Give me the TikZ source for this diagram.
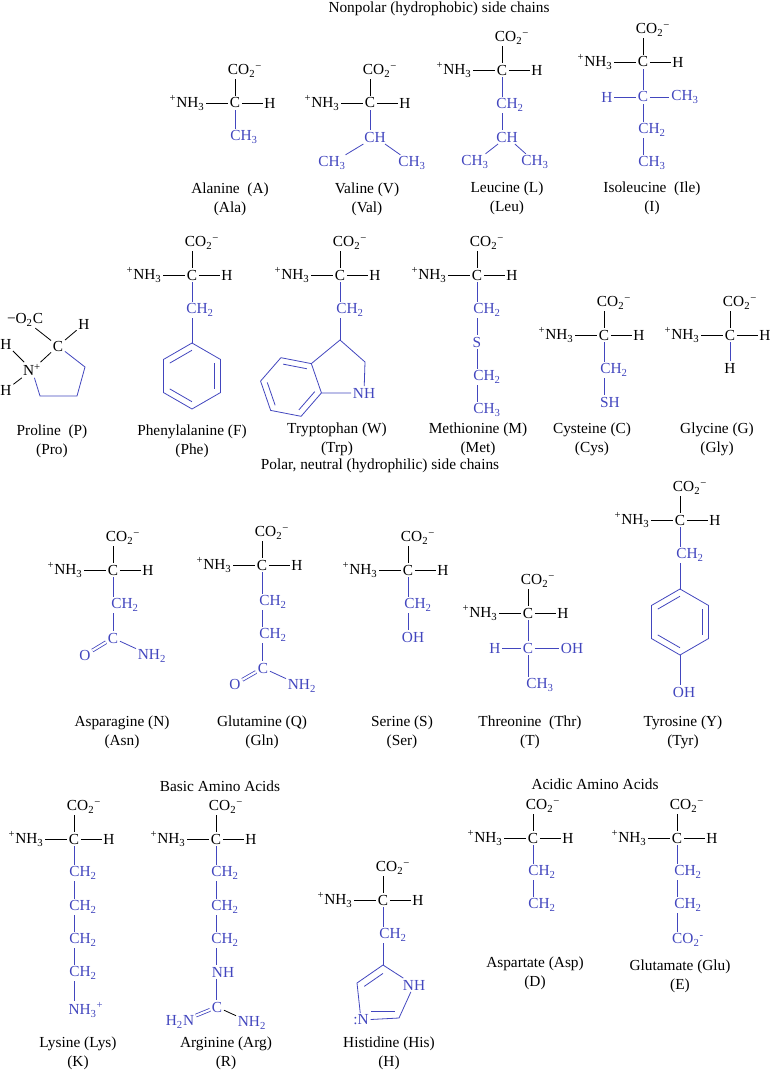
\documentclass[tikz,border=0pt]{standalone}
\usepackage{fontspec}
\setmainfont{Liberation Serif}
\usetikzlibrary{calc}
\definecolor{chain}{RGB}{66,70,190}

\tikzset{
	atom/.style={inner sep=1.2pt,font=\fontsize{11.5}{13}\selectfont},
	side/.style={atom,text=chain},
	bond/.style={draw=black,line width=0.6pt},
	sbond/.style={draw=chain,line width=0.6pt},
	dbond/.style={sbond,double=white,double distance=1.6pt},
	headtext/.style={inner sep=0pt,font=\fontsize{11.5}{13}\selectfont},
	aalabel/.style={inner sep=0pt,align=center,font=\fontsize{11.5}{14}\selectfont}
}

% backbone: prefix, x, y of the alpha carbon
\newcommand{\backbone}[3]{
	\node[atom] (#1c)  at (#2,#3)       {C};
	\node[atom] (#1co) at (#2+10,#3-32) {CO\textsubscript{2}\textsuperscript{−}};
	\node[atom] (#1n)  at (#2-48,#3)    {\textsuperscript{+}NH\textsubscript{3}};
	\node[atom] (#1h)  at (#2+35,#3)    {H};
	\draw[bond] (#1c) -- (#1c |- #1co.south);
	\draw[bond] (#1n) -- (#1c);
	\draw[bond] (#1c) -- (#1h);
}
% vertical side chain bond at the x of #3
\newcommand{\vb}[3]{\draw[sbond] (#3 |- #1.south) -- (#3 |- #2.north);}
% benzene ring: name, cx, cy, radius, start angle
\newcommand{\benzring}[5]{
	\coordinate (#1) at (#2,#3);
	\foreach \k in {1,...,6} \coordinate (#1\k) at ($(#1)+({#5+60*(\k-1)}:#4)$);
	\draw[sbond] (#11) -- (#12) -- (#13) -- (#14) -- (#15) -- (#16) -- cycle;
	\foreach \a/\b in {2/3,4/5,6/1} \draw[sbond] ($(#1)!0.78!(#1\a)$) -- ($(#1)!0.78!(#1\b)$);
}

\begin{document}
\begin{tikzpicture}[x=0.75pt,y=-0.75pt]
	\useasboundingbox (0,0) rectangle (771,1070);
	
	\node[headtext] (t1) at (439,9) {Nonpolar (hydrophobic) side chains};
	
	% alanine
	\backbone{ala}{235}{103}
	\node[side] (ala1) at (244,137) {CH\textsubscript{3}};
	\vb{alac}{ala1}{alac}
	\node[aalabel] (alal) at (230,199) {Alanine\ \ (A)\\(Ala)};
	
	% valine
	\backbone{val}{370}{103}
	\node[side] (val1) at (375,137) {CH};
	\node[side] (val2) at (332,163) {CH\textsubscript{3}};
	\node[side] (val3) at (412,163) {CH\textsubscript{3}};
	\vb{valc}{val1}{valc}
	\draw[sbond] (val1) -- (val2);
	\draw[sbond] (val1) -- (val3);
	\node[aalabel] (vall) at (367,199) {Valine (V)\\(Val)};
	
	% leucine
	\backbone{leu}{502}{70}
	\node[side] (leu1) at (510,105) {CH\textsubscript{2}};
	\node[side] (leu2) at (507,137) {CH};
	\node[side] (leu3) at (475,162) {CH\textsubscript{3}};
	\node[side] (leu4) at (535,162) {CH\textsubscript{3}};
	\vb{leuc}{leu1}{leuc}
	\vb{leu1}{leu2}{leuc}
	\draw[sbond] (leu2) -- (leu3);
	\draw[sbond] (leu2) -- (leu4);
	\node[aalabel] (leul) at (507,198) {Leucine (L)\\(Leu)};
	
	% isoleucine
	\backbone{ile}{643}{62}
	\node[side] (ile1) at (607,97) {H};
	\node[side] (ile2) at (643,97) {C};
	\node[side] (ile3) at (685,97) {CH\textsubscript{3}};
	\node[side] (ile4) at (652,130) {CH\textsubscript{2}};
	\node[side] (ile5) at (652,163) {CH\textsubscript{3}};
	\vb{ilec}{ile2}{ilec}
	\draw[sbond] (ile1) -- (ile2);
	\draw[sbond] (ile2) -- (ile3);
	\vb{ile2}{ile4}{ilec}
	\vb{ile4}{ile5}{ilec}
	\node[aalabel] (ilel) at (652,198) {Isoleucine\ \ (Ile)\\(I)};
	
	% proline
	\node[atom] (proco) at (25,320) {−O\textsubscript{2}C};
	\node[atom] (proh)  at (84,324) {H};
	\node[atom] (proc)  at (58,346) {C};
	\node[atom] (pron)  at (32,370) {N\textsuperscript{+}};
	\node[atom] (proh1) at (6,344)  {H};
	\node[atom] (proh2) at (6,390)  {H};
	\coordinate (pr1) at (85,367);
	\coordinate (pr2) at (77,396);
	\coordinate (pr3) at (40,396);
	\draw[bond] (proco) -- (proc);
	\draw[bond] (proh) -- (proc);
	\draw[bond] (proh1) -- (pron);
	\draw[bond] (proh2) -- (pron);
	\draw[bond] (pron) -- (proc);
	\draw[sbond] (proc) -- (pr1) -- (pr2) -- (pr3) -- (pron);
	\node[aalabel] (prol) at (52,441) {Proline\ \ (P)\\(Pro)};
	
	% phenylalanine
	\backbone{phe}{192}{275}
	\node[side] (phe0) at (200,310) {CH\textsubscript{2}};
	\vb{phec}{phe0}{phec}
	\benzring{phe}{192}{376}{33}{-90}
	\draw[sbond] (phec |- phe0.south) -- (phe1);
	\node[aalabel] (phel) at (192,441) {Phenylalanine (F)\\(Phe)};
	
	% tryptophan
	\backbone{trp}{340}{275}
	\node[side] (trp0) at (350,310) {CH\textsubscript{2}};
	\vb{trpc}{trp0}{trpc}
	\benzring{trp}{291}{387}{31}{-49}
	\coordinate (trpa) at (340,340);
	\coordinate (trpb) at (365,362);
	\node[side] (trpn) at (364,393) {NH};
	\draw[sbond] (trpc |- trp0.south) -- (trpa);
	\draw[sbond] (trp1) -- (trpa) -- (trpb) -- (trpn);
	\draw[sbond] (trpn) -- (trp2);
	\node[aalabel] (trpl) at (337,439) {Tryptophan (W)\\(Trp)};
	
	% methionine
	\backbone{met}{477}{275}
	\node[side] (met1) at (487,310) {CH\textsubscript{2}};
	\node[side] (met2) at (477,342) {S};
	\node[side] (met3) at (487,377) {CH\textsubscript{2}};
	\node[side] (met4) at (487,410) {CH\textsubscript{3}};
	\vb{metc}{met1}{metc}
	\vb{met1}{met2}{metc}
	\vb{met2}{met3}{metc}
	\vb{met3}{met4}{metc}
	\node[aalabel] (metl) at (478,439) {Methionine (M)\\(Met)};
	
	% cysteine
	\backbone{cys}{604}{335}
	\node[side] (cys1) at (614,370) {CH\textsubscript{2}};
	\node[side] (cys2) at (610,402) {SH};
	\vb{cysc}{cys1}{cysc}
	\vb{cys1}{cys2}{cysc}
	\node[aalabel] (cysl) at (592,439) {Cysteine (C)\\(Cys)};
	
	% glycine
	\backbone{gly}{730}{335}
	\node[atom] (gly1) at (730,368) {H};
	\vb{glyc}{gly1}{glyc}
	\node[aalabel] (glyl) at (717,439) {Glycine (G)\\(Gly)};
	
	\node[headtext] (t2) at (380,466) {Polar, neutral (hydrophilic) side chains};
	
	% asparagine
	\backbone{asn}{113}{570}
	\node[side] (asn1) at (125,605) {CH\textsubscript{2}};
	\node[side] (asn2) at (113,638) {C};
	\node[side] (asn3) at (85,655)  {O};
	\node[side] (asn4) at (152,656) {NH\textsubscript{2}};
	\vb{asnc}{asn1}{asnc}
	\vb{asn1}{asn2}{asnc}
	\draw[dbond] (asn2) -- (asn3);
	\draw[sbond] (asn2) -- (asn4);
	\node[aalabel] (asnl) at (122,732) {Asparagine (N)\\(Asn)};
	
	% glutamine
	\backbone{gln}{262}{565}
	\node[side] (gln1) at (273,602) {CH\textsubscript{2}};
	\node[side] (gln2) at (273,635) {CH\textsubscript{2}};
	\node[side] (gln3) at (263,668) {C};
	\node[side] (gln4) at (235,684) {O};
	\node[side] (gln5) at (302,686) {NH\textsubscript{2}};
	\vb{glnc}{gln1}{glnc}
	\vb{gln1}{gln2}{glnc}
	\vb{gln2}{gln3}{glnc}
	\draw[dbond] (gln3) -- (gln4);
	\draw[sbond] (gln3) -- (gln5);
	\node[aalabel] (glnl) at (262,732) {Glutamine (Q)\\(Gln)};
	
	% serine
	\backbone{ser}{408}{570}
	\node[side] (ser1) at (418,605) {CH\textsubscript{2}};
	\node[side] (ser2) at (413,637) {OH};
	\vb{serc}{ser1}{serc}
	\vb{ser1}{ser2}{serc}
	\node[aalabel] (serl) at (402,732) {Serine (S)\\(Ser)};
	
	% threonine
	\backbone{thr}{528}{613}
	\node[side] (thr1) at (495,648) {H};
	\node[side] (thr2) at (528,648) {C};
	\node[side] (thr3) at (572,648) {OH};
	\node[side] (thr4) at (540,685) {CH\textsubscript{3}};
	\vb{thrc}{thr2}{thrc}
	\draw[sbond] (thr1) -- (thr2);
	\draw[sbond] (thr2) -- (thr3);
	\vb{thr2}{thr4}{thrc}
	\node[aalabel] (thrl) at (530,732) {Threonine\ \ (Thr)\\(T)};
	
	% tyrosine
	\backbone{tyr}{680}{520}
	\node[side] (tyr0) at (690,555) {CH\textsubscript{2}};
	\vb{tyrc}{tyr0}{tyrc}
	\benzring{tyr}{680}{622}{33}{-90}
	\draw[sbond] (tyrc |- tyr0.south) -- (tyr1);
	\node[side] (tyroh) at (684,692) {OH};
	\draw[sbond] (tyr4) -- (tyr4 |- tyroh.north);
	\node[aalabel] (tyrl) at (683,732) {Tyrosine (Y)\\(Tyr)};
	
	\node[headtext] (t3) at (220,786) {Basic Amino Acids};
	\node[headtext] (t4) at (595,784) {Acidic Amino Acids};
	
	% lysine
	\backbone{lys}{74}{839}
	\foreach \i/\yy in {1/873,2/907,3/940,4/973}
		\node[side] (lys\i) at (83,\yy) {CH\textsubscript{2}};
	\node[side] (lys5) at (86,1010) {NH\textsubscript{3}\textsuperscript{+}};
	\vb{lysc}{lys1}{lysc}
	\vb{lys1}{lys2}{lysc}
	\vb{lys2}{lys3}{lysc}
	\vb{lys3}{lys4}{lysc}
	\vb{lys4}{lys5}{lysc}
	\node[aalabel] (lysl) at (78,1053) {Lysine (Lys)\\(K)};
	
	% arginine
	\backbone{arg}{216}{839}
	\foreach \i/\yy in {1/873,2/907,3/940}
		\node[side] (arg\i) at (225,\yy) {CH\textsubscript{2}};
	\node[side] (arg4) at (223,972)  {NH};
	\node[side] (arg5) at (217,1007) {C};
	\node[side] (arg6) at (180,1022) {H\textsubscript{2}N};
	\node[side] (arg7) at (252,1023) {NH\textsubscript{2}};
	\vb{argc}{arg1}{argc}
	\vb{arg1}{arg2}{argc}
	\vb{arg2}{arg3}{argc}
	\vb{arg3}{arg4}{argc}
	\vb{arg4}{arg5}{argc}
	\draw[dbond] (arg5) -- (arg6);
	\draw[bond] (arg5) -- (arg7);
	\node[aalabel] (argl) at (226,1053) {Arginine (Arg)\\(R)};
	
	% histidine
	\backbone{his}{383}{900}
	\node[side] (his0) at (393,935) {CH\textsubscript{2}};
	\vb{hisc}{his0}{hisc}
	\coordinate (hisr) at (383,995);
	\coordinate (his1) at (383,965);
	\node[side] (his2) at (414,985) {NH};
	\coordinate (his3) at (399,1018);
	\node[side] (his4) at (361,1020) {:N};
	\coordinate (his5) at (357,983);
	\draw[sbond] (hisc |- his0.south) -- (his1);
	\draw[sbond] (his1) -- (his5) -- (his4) -- (his3) -- (his2) -- (his1);
	\draw[sbond] ($(hisr)!0.72!(his1)$) -- ($(hisr)!0.72!(his5)$);
	\draw[sbond] ($(hisr)!0.72!(367,1018)$) -- ($(hisr)!0.72!(his3)$);
	\node[aalabel] (hisl) at (389,1053) {Histidine (His)\\(H)};
	
	% aspartate
	\backbone{asp}{533}{838}
	\node[side] (asp1) at (542,872) {CH\textsubscript{2}};
	\node[side] (asp2) at (542,905) {CH\textsubscript{2}};
	\vb{aspc}{asp1}{aspc}
	\vb{asp1}{asp2}{aspc}
	\node[aalabel] (aspl) at (535,973) {Aspartate (Asp)\\(D)};
	
	% glutamate
	\backbone{glu}{677}{838}
	\node[side] (glu1) at (688,872) {CH\textsubscript{2}};
	\node[side] (glu2) at (688,905) {CH\textsubscript{2}};
	\node[side] (glu3) at (688,940) {CO\textsubscript{2}\textsuperscript{-}};
	\vb{gluc}{glu1}{gluc}
	\vb{glu1}{glu2}{gluc}
	\vb{glu2}{glu3}{gluc}
	\node[aalabel] (glul) at (680,976) {Glutamate (Glu)\\(E)};
	
\end{tikzpicture}
\end{document}
